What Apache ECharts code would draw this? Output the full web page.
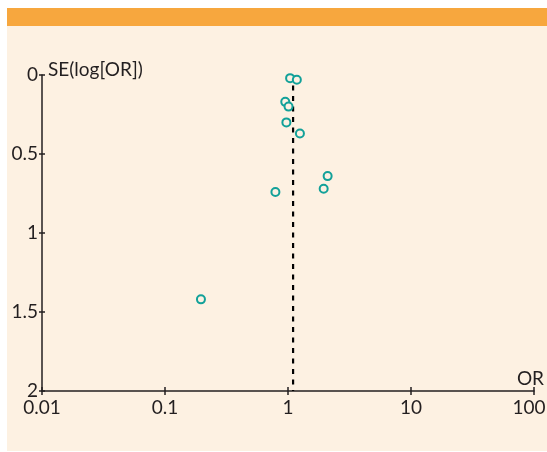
<!DOCTYPE html>
<html>
<head>
<meta charset="utf-8">
<script src="https://cdn.jsdelivr.net/npm/echarts@6/dist/echarts.min.js"></script>
<style>
  html, body { margin: 0; padding: 0; background: #ffffff; }
  #frame { position: absolute; left: 0; top: 0; width: 547px; height: 452px; }
  #band { position: absolute; left: 7px; top: 8px; width: 540px; height: 18px; background: #F7A73E; }
  #panel { position: absolute; left: 7px; top: 26px; width: 540px; height: 425px; background: #FDF1E2; }
  #chart { position: absolute; left: 0; top: 0; width: 547px; height: 452px; }
</style>
</head>
<body>
<div id="frame">
  <div id="band"></div>
  <div id="panel"></div>
  <div id="chart"></div>
</div>
<script>
// Study odds ratios and standard errors of log(OR)
const oddsRatios = [1.04, 1.18, 0.95, 1.01, 0.97, 1.25, 2.10, 1.95, 0.79, 0.196];
const seLogOR    = [0.02, 0.03, 0.17, 0.20, 0.30, 0.37, 0.64, 0.72, 0.74, 1.42];
// Pooled estimate drawn as the dashed reference line
const pooledOR = [1.10];
const seRange = [0, 2];
const xTicks = [0.01, 0.1, 1, 10, 100];
const yTicks = [0, 0.5, 1, 1.5, 2];

const FONT = 'Lato';
const TEXT = '#231f20';
const AXIS = '#231f20';

const points = oddsRatios.map((v, i) => [v, seLogOR[i]]);
const pooledLine = seRange.map(s => [pooledOR[0], s]);

const chart = echarts.init(document.getElementById('chart'), null, { renderer: 'canvas' });

const xBase = {
  type: 'log', logBase: 10, min: xTicks[0], max: xTicks[xTicks.length - 1],
  splitLine: { show: false }, minorTick: { show: false }
};
const yBase = {
  type: 'value', inverse: true, min: yTicks[0], max: yTicks[yTicks.length - 1], interval: 0.5,
  splitLine: { show: false }
};

const xMax = xTicks[xTicks.length - 1];
const fmtX = v => {
  const s = String(Number(v.toPrecision(3)));
  // keep the last label inside the panel
  return Math.abs(v - xMax) < 1e-9 ? '{last|' + s + '}' : s;
};

chart.setOption({
  backgroundColor: 'transparent',
  animation: false,
  grid: { left: 42, top: 75, right: 13, bottom: 61, containLabel: false, outerBoundsMode: 'none' },
  xAxis: [
    Object.assign({}, xBase, {
      position: 'bottom',
      name: 'OR', nameLocation: 'end', nameGap: 10,
      nameTextStyle: { fontFamily: FONT, fontSize: 19, color: TEXT, align: 'right', verticalAlign: 'bottom', padding: [0, 0, 3, 0] },
      axisLine: { show: true, onZero: false, lineStyle: { color: AXIS, width: 1.5 } },
      axisTick: { show: true, inside: false, length: 4, lineStyle: { color: AXIS, width: 1.5 } },
      axisLabel: { fontFamily: FONT, fontSize: 19, color: TEXT, margin: 7, showMinLabel: true, showMaxLabel: true,
        formatter: fmtX,
        rich: { last: { fontFamily: FONT, fontSize: 19, color: TEXT, padding: [0, 10, 0, 0] } } }
    }),
    Object.assign({}, xBase, {
      position: 'top', offset: -316,
      axisLine: { show: false, onZero: false },
      axisTick: { show: true, inside: false, length: 4, lineStyle: { color: AXIS, width: 1.5 } },
      axisLabel: { show: false }
    })
  ],
  yAxis: [
    Object.assign({}, yBase, {
      position: 'left',
      name: 'SE(log[OR])', nameLocation: 'start', nameGap: 0,
      nameTextStyle: { fontFamily: FONT, fontSize: 19, color: TEXT, align: 'left', verticalAlign: 'bottom', padding: [0, 0, -4, 6] },
      axisLine: { show: true, onZero: false, lineStyle: { color: AXIS, width: 1.5 } },
      axisTick: { show: true, inside: false, length: 3, lineStyle: { color: AXIS, width: 1.5 } },
      axisLabel: { fontFamily: FONT, fontSize: 19, color: TEXT, margin: 4, showMinLabel: true, showMaxLabel: true }
    }),
    Object.assign({}, yBase, {
      position: 'right', offset: -492,
      axisLine: { show: false, onZero: false },
      axisTick: { show: true, inside: false, length: 3, lineStyle: { color: AXIS, width: 1.5 } },
      axisLabel: { show: false }
    })
  ],
  series: [
    {
      type: 'line', xAxisIndex: 0, yAxisIndex: 0, data: pooledLine,
      symbol: 'none', z: 1,
      lineStyle: { color: '#000000', width: 2.2, type: [5, 5.5] }
    },
    {
      type: 'scatter', xAxisIndex: 0, yAxisIndex: 0, data: points,
      symbol: 'circle', symbolSize: 8, z: 3,
      itemStyle: { color: '#FDF1E2', borderColor: '#12A199', borderWidth: 2, opacity: 1 }
    }
  ]
});
</script>
</body>
</html>
